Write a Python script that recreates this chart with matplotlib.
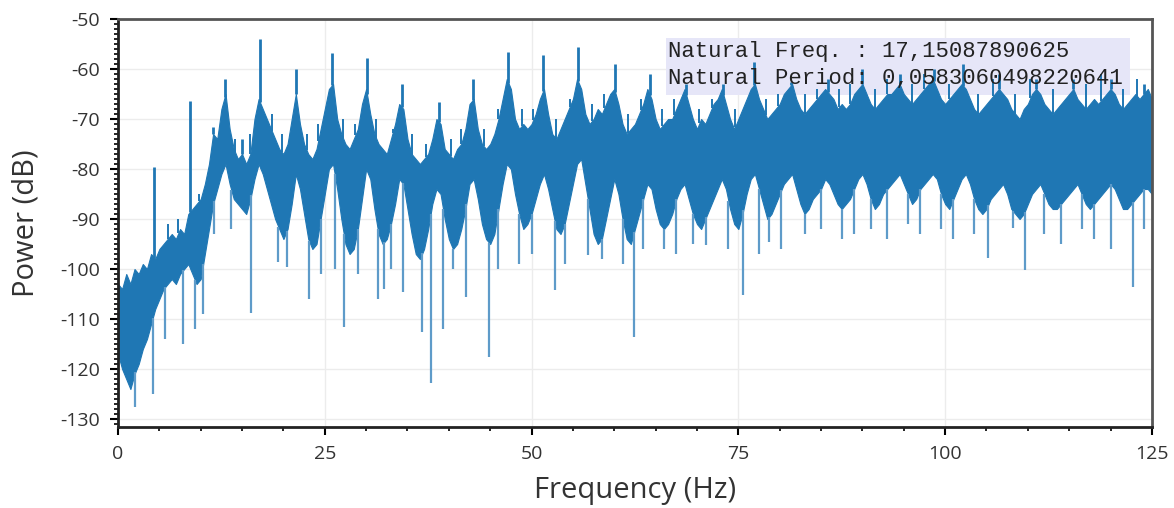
import numpy as np
import matplotlib
matplotlib.use("Agg")
import matplotlib.pyplot as plt
from matplotlib.patches import Rectangle
from matplotlib.ticker import MultipleLocator

# ── Data (Hz, dB) ───────────────────────────────────────────────────────────
# dense noise band, sampled every 0.5 Hz (top and bottom edge of the trace)
knot_freq = np.arange(0, 125.5, 0.5)
band_top = [
    -103, -104, -101, -103, -100, -101, -99, -100, -97, -98,     # 0 - 4.5
    -96, -95, -94, -93, -94, -92, -93, -89, -88, -87,            # 5 - 9.5
    -86, -83, -79, -73, -74, -68, -65, -72, -76, -78,            # 10 - 14.5
    -77, -79, -77, -70, -66, -68, -70, -72, -74, -76,            # 15 - 19.5
    -77, -75, -70, -65, -71, -75, -77, -78, -76, -72,            # 20 - 24.5
    -68, -64, -63, -70, -73, -75, -76, -74, -72, -67,            # 25 - 29.5
    -64, -69, -73, -75, -76, -77, -74, -71, -67, -68,            # 30 - 34.5
    -74, -77, -78, -79, -78, -77, -74, -70, -71, -76,            # 35 - 39.5
    -77, -78, -76, -75, -72, -67, -66, -72, -75, -76,            # 40 - 44.5
    -75, -73, -70, -66, -62, -64, -70, -72, -71, -72,            # 45 - 49.5
    -71, -69, -66, -64, -69, -73, -74, -72, -70, -68,            # 50 - 54.5
    -66, -62, -64, -69, -71, -70, -68, -69, -67, -65,            # 55 - 59.5
    -64, -67, -71, -73, -72, -71, -69, -67, -64, -66,            # 60 - 64.5
    -70, -72, -71, -70, -70, -68, -66, -64, -67, -70,            # 65 - 69.5
    -72, -70, -71, -69, -67, -66, -64, -67, -70, -72,            # 70 - 74.5
    -70, -68, -66, -64, -63, -66, -68, -70, -69, -68,            # 75 - 79.5
    -67, -65, -64, -63, -66, -68, -69, -68, -67, -66,            # 80 - 84.5
    -65, -64, -65, -66, -68, -67, -68, -67, -65, -64,            # 85 - 89.5
    -63, -65, -67, -68, -67, -66, -65, -65, -64, -63,            # 90 - 94.5
    -65, -66, -67, -66, -65, -64, -63, -62, -64, -66,            # 95 - 99.5
    -67, -66, -65, -64, -63, -64, -66, -68, -69, -68,            # 100 - 104.5
    -67, -66, -65, -64, -65, -66, -68, -69, -70, -68,            # 105 - 109.5
    -67, -65, -64, -65, -67, -68, -69, -68, -67, -66,            # 110 - 114.5
    -65, -64, -66, -67, -68, -67, -66, -67, -66, -65,            # 115 - 119.5
    -64, -65, -67, -68, -67, -66, -65, -66, -65, -64,            # 120 - 124.5
    -66,
]
band_bottom = [
    -117, -120, -122, -124, -121, -119, -116, -114, -111, -108,
    -106, -104, -103, -102, -103, -101, -100, -99, -101, -103,
    -102, -97, -92, -87, -84, -81, -79, -83, -86, -87,
    -88, -89, -86, -82, -79, -81, -84, -87, -90, -92,
    -94, -92, -87, -81, -84, -89, -94, -96, -95, -90,
    -85, -80, -79, -84, -90, -95, -97, -96, -92, -86,
    -80, -82, -88, -93, -95, -94, -91, -87, -82, -83,
    -88, -93, -97, -98, -96, -92, -87, -84, -85, -90,
    -94, -96, -95, -92, -88, -83, -82, -86, -91, -94,
    -95, -93, -88, -83, -79, -80, -85, -89, -92, -91,
    -89, -86, -83, -81, -84, -88, -92, -93, -91, -87,
    -83, -79, -78, -83, -88, -93, -95, -94, -90, -86,
    -82, -85, -90, -94, -95, -92, -89, -86, -83, -84,
    -88, -91, -92, -91, -89, -86, -84, -83, -86, -89,
    -91, -92, -90, -88, -86, -84, -82, -84, -88, -91,
    -92, -89, -85, -82, -81, -84, -87, -90, -89, -87,
    -85, -83, -82, -81, -84, -87, -89, -88, -86, -85,
    -84, -82, -83, -85, -87, -88, -87, -86, -84, -82,
    -81, -83, -86, -88, -87, -85, -84, -83, -82, -81,
    -83, -85, -87, -86, -84, -83, -82, -81, -82, -85,
    -87, -88, -86, -84, -82, -81, -83, -86, -88, -89,
    -88, -86, -85, -84, -83, -85, -88, -89, -90, -89,
    -87, -85, -84, -83, -85, -87, -88, -88, -87, -86,
    -85, -84, -83, -85, -87, -88, -87, -86, -85, -84,
    -83, -84, -86, -88, -88, -87, -86, -85, -84, -84,
    -85,
]

# harmonic peaks (tall upward spikes)
peak_freq = [4.4, 8.7, 11.5, 12.9, 15.0, 17.15, 21.5, 25.9, 30.1, 34.3, 38.8, 42.9,
             47.2, 51.4, 55.6, 60.1, 64.3, 68.7, 73.2, 76.9, 81.4, 85.8, 90.0,
             94.5, 98.6, 102.2, 106.5, 111.0, 115.5, 120.0, 124.0]
peak_db = [-79.5, -66.4, -71.6, -62.0, -74.0, -54.0, -60.0, -56.8, -57.8, -63.0, -66.6, -62.0,
           -56.6, -57.2, -55.6, -59.0, -61.0, -63.0, -63.0, -58.6, -62.6, -62.0, -60.0,
           -61.0, -60.0, -59.0, -61.0, -62.0, -62.0, -62.0, -63.0]

# small upward spikes on the top edge of the noise
up_freq = [6.0, 7.3, 9.8, 14.2, 16.0, 18.6, 19.8, 22.8, 24.2, 27.2, 28.7, 31.2, 33.2,
           35.6, 37.2, 40.2, 41.5, 44.2, 46.0, 48.8, 50.2, 53.0, 54.6, 57.3, 58.8,
           61.6, 63.2, 65.8, 67.2, 70.3, 71.8, 74.6, 78.3, 79.8, 83.0, 84.5, 87.2,
           88.5, 91.5, 93.0, 96.0, 97.5, 100.5, 104.0, 105.8, 108.5, 110.3, 113.0,
           117.0, 118.8, 121.5, 123.2]
up_db = [-91, -90, -85, -74, -73, -69, -73, -73, -71, -70, -71, -70, -72,
         -73, -75, -74, -72, -72, -68, -68, -68, -70, -66, -67, -65,
         -69, -66, -68, -66, -68, -66, -68, -66, -65, -65, -64, -64,
         -63, -64, -62, -63, -61, -63, -65, -62, -65, -62, -64,
         -63, -61, -64, -62]

# downward spikes
dip_freq = [2.1, 4.2, 5.7, 7.9, 9.3, 10.3, 11.6, 13.7, 16.1, 19.4, 20.4, 23.1, 24.5,
            26.2, 27.3, 29.0, 31.4, 32.2, 33.0, 34.4, 36.8, 37.8, 39.3, 40.5, 42.1,
            44.9, 46.0, 48.5, 50.0, 52.8, 54.0, 56.8, 58.5, 61.0, 62.4, 63.5, 66.0,
            67.5, 69.5, 71.1, 73.8, 75.6, 77.5, 78.7, 80.2, 83.0, 85.0, 87.5, 89.0,
            91.0, 93.0, 95.5, 97.0, 99.5, 101.0, 103.5, 105.2, 108.2, 109.6, 112.0,
            114.0, 116.5, 118.0, 120.0, 122.7, 124.0]
dip_db = [-127.6, -125.0, -114.0, -115.0, -112.0, -109.0, -93.0, -92.0, -108.8, -98.6, -99.6,
          -106.0, -101.0, -100.0, -111.6, -101.0, -106.0, -104.0, -100.0, -104.6, -112.6,
          -122.8, -112.0, -100.0, -105.6, -117.6, -100.0, -99.0, -97.0, -104.2, -99.0,
          -97.2, -98.0, -99.0, -113.6, -96.0, -96.0, -97.0, -95.0, -95.2, -96.0, -105.2,
          -97.0, -94.6, -96.0, -93.0, -92.0, -94.0, -93.0, -92.0, -94.0, -91.0, -93.0,
          -92.0, -94.0, -93.0, -97.8, -91.8, -100.2, -93.0, -95.0, -92.0, -94.0, -96.0,
          -103.6, -92.0]

NAT_FREQ = "17,15087890625"
NAT_PERIOD = "0,0583060498220641"

BLUE = "#1f77b4"
LIGHT_BLUE = "#5e9bc9"

plt.rcParams["axes.unicode_minus"] = False
plt.rcParams["font.family"] = ["Open Sans", "DejaVu Sans"]

fig = plt.figure(figsize=(11.74, 5.08), dpi=100)
ax = fig.add_axes([0.1005, 0.1594, 0.8807, 0.8032])

# lavender info box sits behind the trace
ax.add_patch(Rectangle((66.2, -65.2), 56.2, 11.4, facecolor="#e6e6f8",
                       edgecolor="none", zorder=1))

ax.fill_between(knot_freq, band_bottom, band_top, color=BLUE, lw=0.8, zorder=2)

dip_base = np.interp(dip_freq, knot_freq, band_bottom)
ax.vlines(dip_freq, dip_db, dip_base, color=LIGHT_BLUE, lw=1.6, zorder=2)
up_base = np.interp(up_freq, knot_freq, band_top)
ax.vlines(up_freq, up_base, up_db, color=BLUE, lw=1.4, zorder=2)
peak_base = np.interp(peak_freq, knot_freq, band_top)
ax.vlines(peak_freq, peak_base, peak_db, color=BLUE, lw=2.0, zorder=2)

mono = dict(family=["Liberation Mono", "DejaVu Sans Mono"], fontsize=16,
            color="#222222", zorder=5, va="baseline")
ax.text(66.55, -57.6, "Natural Freq. : " + NAT_FREQ, **mono)
ax.text(66.55, -63.0, "Natural Period: " + NAT_PERIOD, **mono)

ax.set_xlim(0, 125)
ax.set_ylim(-131.6, -50)
ax.xaxis.set_major_locator(MultipleLocator(25))
ax.xaxis.set_minor_locator(MultipleLocator(5))
ax.yaxis.set_major_locator(MultipleLocator(10))
ax.yaxis.set_minor_locator(MultipleLocator(1))
ax.tick_params(which="major", direction="out", length=6, width=1.5, labelsize=14,
               labelcolor="#333333", pad=7)
ax.tick_params(which="minor", direction="out", length=3, width=1.2)
ax.grid(True, which="major", color="#ececec", lw=1, zorder=0)
ax.set_axisbelow(True)

for side in ["left", "bottom"]:
    ax.spines[side].set_color("#222222")
    ax.spines[side].set_linewidth(2)
for side in ["top", "right"]:
    ax.spines[side].set_color("#555555")
    ax.spines[side].set_linewidth(2)

ax.set_xlabel("Frequency (Hz)", fontsize=21, color="#333333", labelpad=9)
ax.set_ylabel("Power (dB)", fontsize=21, color="#333333", labelpad=14)

fig.savefig("out.png", dpi=100)
